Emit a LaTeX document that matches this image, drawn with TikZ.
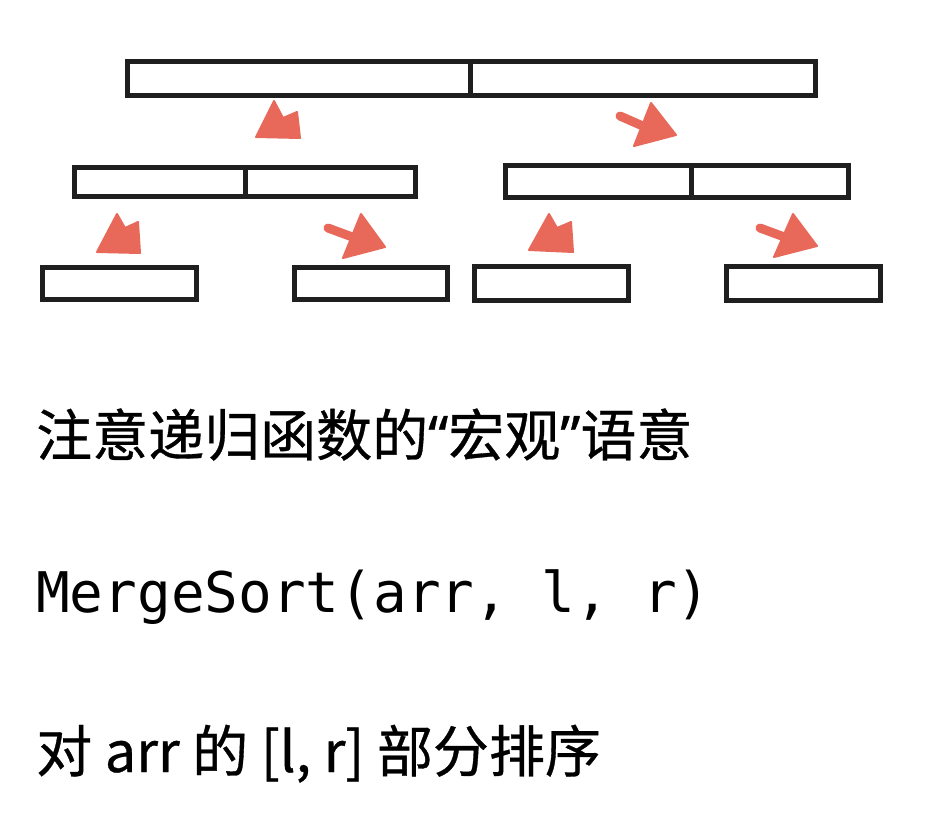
\documentclass[tikz,border=0pt]{standalone}
\usepackage{fontspec}
\setmainfont{Noto Sans CJK SC}[FakeBold=0.6]
\newfontfamily\monof{DejaVu Sans Mono}
\newfontfamily\quotef{Noto Sans}[FakeBold=0.6]
\begin{document}
\begin{tikzpicture}[x=1pt,y=-1pt,
  cell/.style={draw=black!88,line width=5.5pt,inner sep=0pt,minimum width=#1,rectangle},
  divider/.style={draw=black!88,line width=5pt},
  blob/.style={fill=arrowred,draw=arrowred,line width=2pt,line join=round},
  stub/.style={draw=arrowred,line width=9pt,line cap=round},
  txt/.style={anchor=base west,inner sep=0pt,font=\fontsize{56}{60}\selectfont}]
\definecolor{arrowred}{HTML}{E8685A}
\useasboundingbox (0,0) rectangle (942,824);
% boxes
\node[cell=688pt,minimum height=34pt] (top) at (471.5,78.5) {};
\node[cell=341pt,minimum height=29pt] (ml) at (245,182) {};
\node[cell=343pt,minimum height=32pt] (mr) at (677,181.5) {};
\node[cell=154pt,minimum height=32pt] (b1) at (119.5,283.5) {};
\node[cell=153pt,minimum height=32pt] (b2) at (371,283.5) {};
\node[cell=154pt,minimum height=34pt] (b3) at (551.5,283.5) {};
\node[cell=154pt,minimum height=34pt] (b4) at (803.5,283.5) {};
\draw[divider] (top.north -| 470,0) -- (top.south -| 470,0);
\draw[divider] (ml.north -| 245,0) -- (ml.south -| 245,0);
\draw[divider] (mr.north -| 691,0) -- (mr.south -| 691,0);
% arrows (hand drawn blobs)
\draw[blob] (274,101) -- (283,118) -- (297,112) -- (300,138) -- (256,137) -- cycle;
\draw[stub] (645,127) -- (620,116);
\draw[blob] (651,103) -- (676,135) -- (634,146) -- cycle;
\draw[blob] (117,214) -- (125,228) -- (138,222) -- (140,253) -- (97,252) -- cycle;
\draw[stub] (355,238) -- (328,228);
\draw[blob] (361,214) -- (385,247) -- (343,258) -- cycle;
\draw[blob] (549,214) -- (557,228) -- (571,222) -- (573,252) -- (529,250) -- cycle;
\draw[stub] (787,238) -- (760,228);
\draw[blob] (793,214) -- (817,246) -- (774,257) -- cycle;
% texts
\node[txt] (t1) at (36,456) {注意递归函数的{\quotef “}宏观{\quotef ”}语意};
\node[txt,font=\monof\fontsize{56}{60}\selectfont] (t2) at (36,612) {MergeSort(arr, l, r)};
\node[txt] (t3) at (36,772) {对 arr 的 [l, r] 部分排序};
\end{tikzpicture}
\end{document}
